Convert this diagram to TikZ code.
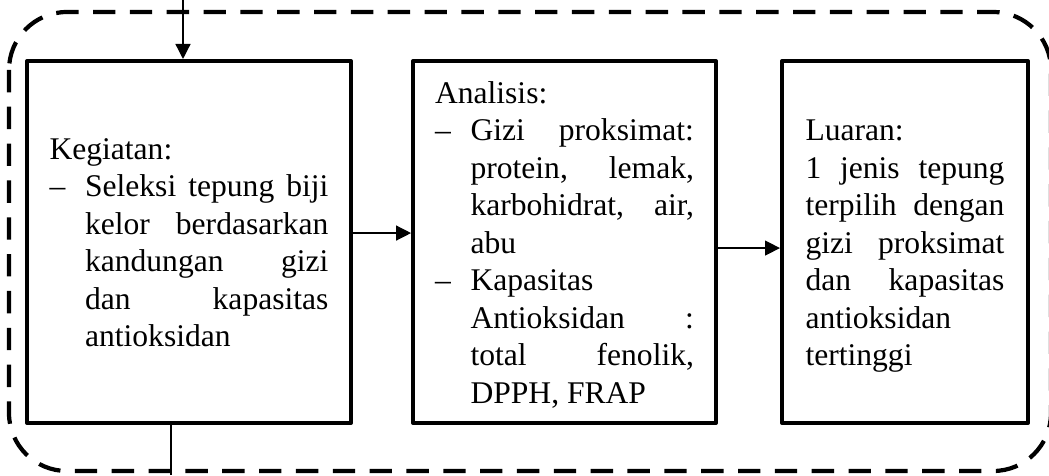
\documentclass[tikz,border=0pt]{standalone}
\usepackage{fontspec}
\setmainfont{Liberation Serif}
\usetikzlibrary{arrows.meta}
\tikzset{>=stealth}
\tolerance=10000
\hbadness=10000
\hyphenpenalty=10000
\newcommand{\dashitem}{\par\hangindent=13.5pt\hangafter=1\noindent\makebox[13.5pt][l]{--}\ignorespaces}
\newcommand{\lnstrut}{\rule[-2.9pt]{0pt}{14.25pt}}

\begin{document}
\begin{tikzpicture}[x=0.38pt,y=-0.38pt,
      box/.style={draw,
      line width=1.5pt,
      line join=round,
      minimum height=137.6pt,
      inner sep=0pt,
      align=justify,
      font=\fontsize{12pt}{14.25pt}\selectfont},
      line/.style={draw, line width=0.5pt, -{Triangle[length=5.7pt,width=5.7pt]}}]
    \useasboundingbox (0,0) rectangle (1049,475);
    %% dashed frame
    \draw [line width=1.6pt, dash pattern=on 8.5pt off 5.5pt, rounded corners=22pt] (9,12) rectangle (1051,471);
    %% Kegiatan
    \node [box, minimum width=123.1pt, text width=106pt] at (189,242) (keg) {\lnstrut Kegiatan:\dashitem Seleksi tepung biji\linebreak kelor berdasarkan\linebreak kandungan gizi\linebreak dan kapasitas\linebreak antioksidan\lnstrut\par};
    %% Analisis
    \node [box, minimum width=115.1pt, text width=98.4pt] at (564.5,242) (ana) {\lnstrut Analisis:\dashitem Gizi proksimat:\linebreak protein, lemak,\linebreak karbohidrat, air,\linebreak abu\dashitem Kapasitas\linebreak Antioksidan :\linebreak total fenolik,\linebreak DPPH, FRAP\lnstrut\par};
    %% Luaran
    \node [box, minimum width=93.5pt, text width=75.6pt] at (905,242) (lua) {\lnstrut Luaran:\par 1 jenis tepung\linebreak terpilih dengan\linebreak gizi proksimat\linebreak dan kapasitas\linebreak antioksidan\linebreak tertinggi\lnstrut\par};
    %%
    %% connectors
    \coordinate (top) at (183,0);
    \coordinate (bot) at (171,475);
    \path [line] (top) -- (top |- keg.north);
    \path [line, -] (keg.south -| bot) -- (bot);
    \path [line] ([yshift=3.4pt]keg.east) -- ([yshift=3.4pt]ana.west);
    \path [line] ([yshift=-2.3pt]ana.east) -- ([yshift=-2.3pt]lua.west);
  \end{tikzpicture}
\end{document}
